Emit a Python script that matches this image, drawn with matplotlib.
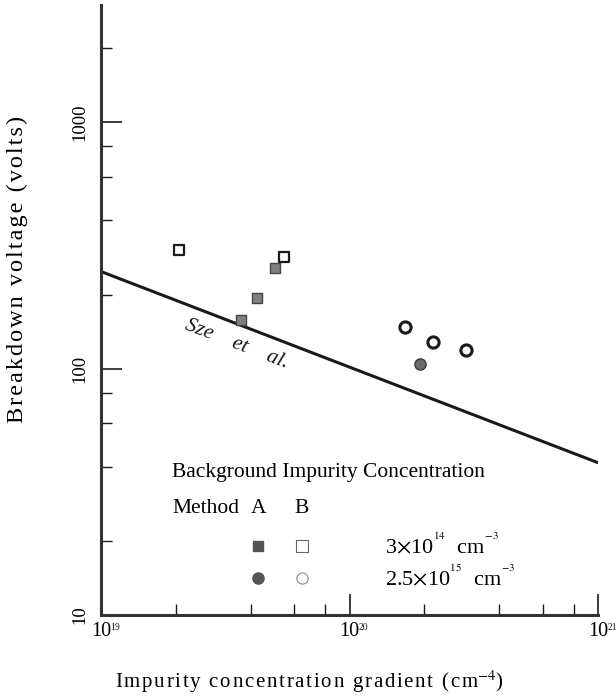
import numpy as np
import matplotlib.pyplot as plt

plt.rcParams['font.family'] = ['Liberation Serif', 'DejaVu Serif']
plt.rcParams['mathtext.fontset'] = 'stix'

# Method A (filled) / Method B (open) measurements
sq_a_x = [3.66e19, 4.24e19, 5.01e19]
sq_a_y = [157, 194, 257]
sq_b_x = [2.06e19, 5.45e19]
sq_b_y = [302, 285]
ci_a_x = [1.92e20]
ci_a_y = [104]
ci_b_x = [1.67e20, 2.17e20, 2.94e20]
ci_b_y = [148, 128, 119]

# Sze et al. curve (straight on log-log)
sze_x = [1e19, 1e21]
sze_y = [248, 41.5]

x_major = [1e19, 1e20, 1e21]
x_exp = ['19', '20', '21']
y_major = [10, 100, 1000]
y_labels = ['10', '100', '1000']

ink = '#1a1a1a'
fig = plt.figure(figsize=(6.16, 6.96), dpi=100)
ax = fig.add_axes([0.164, 0.1164, 0.807, 0.8766])
ax.set_xscale('log')
ax.set_yscale('log')
ax.set_xlim(1e19, 1e21)
ax.set_ylim(10, 3000)

ax.plot(sze_x, sze_y, color=ink, lw=2.2, solid_capstyle='butt')
ax.scatter(sq_a_x, sq_a_y, marker='s', s=60, color='#808080', edgecolors='#444444', linewidths=1.0, zorder=3)
ax.scatter(sq_b_x, sq_b_y, marker='s', s=55, facecolors='white', edgecolors=ink, linewidths=1.6, zorder=3)
ax.scatter(ci_a_x, ci_a_y, marker='o', s=65, color='#6a6a6a', edgecolors='#3a3a3a', linewidths=1.0, zorder=3)
ax.scatter(ci_b_x, ci_b_y, marker='o', s=65, facecolors='white', edgecolors=ink, linewidths=2.2, zorder=3)

ax.text(3.5e19, 126, 'Sze    et    al.', rotation=-21, ha='center', va='center',
        fontsize=15.5, style='italic', color=ink)

for s in ['top', 'right']:
    ax.spines[s].set_visible(False)
for s in ['left', 'bottom']:
    ax.spines[s].set_linewidth(2.2)
    ax.spines[s].set_color('#333333')

ax.set_xticks(x_major)
ax.set_xticklabels(['10'] * len(x_major), fontsize=14.5)
ax.set_xticks([k * d for d in x_major[:-1] for k in [2, 4, 6, 8]], minor=True)
ax.set_xticklabels([], minor=True)
for xv, e in zip(x_major, x_exp):
    ax.annotate(e, xy=(xv, 0), xycoords=('data', 'axes fraction'), xytext=(6.8, -5.5),
                textcoords='offset points', fontsize=7, ha='left', va='top', color=ink)
ax.set_yticks(y_major)
ax.set_yticklabels(y_labels, fontsize=13.5, rotation=90, va='center')
ax.set_yticks([k * d for d in y_major for k in [2, 4, 6, 8] if k * d < 3000], minor=True)
ax.set_yticklabels([], minor=True)
ax.tick_params(which='major', direction='in', length=15, width=1.2, color=ink)
ax.tick_params(axis='x', which='major', pad=5)
ax.tick_params(axis='y', which='major', pad=9)
ax.tick_params(which='minor', direction='in', length=8, width=1.0, color=ink)

hs = '\u200a'
ax.set_xlabel(hs.join('Impurity concentration gradient (cm') + '$^{-4}$)', fontsize=15)
ax.xaxis.set_label_coords(0.419, -0.088)
ax.set_ylabel(hs.join('Breakdown voltage (volts)'), fontsize=17.5)
ax.yaxis.set_label_coords(-0.147, 0.566)

# legend block
tr = ax.transAxes
ax.text(0.143, 0.234, 'Background Impurity Concentration', transform=tr, fontsize=15.5, va='center')
ax.text(0.143, 0.175, 'Method', transform=tr, fontsize=15.5, va='center')
ax.text(0.316, 0.175, 'A', transform=tr, fontsize=15.5, va='center', ha='center')
ax.text(0.404, 0.175, 'B', transform=tr, fontsize=15.5, va='center', ha='center')
ax.scatter([0.316], [0.113], marker='s', s=55, color='#555555', transform=tr)
ax.scatter([0.404], [0.113], marker='s', s=65, facecolors='white', edgecolors='#666666', linewidths=0.8, transform=tr)
ax.scatter([0.316], [0.061], marker='o', s=65, color='#555555', transform=tr)
ax.scatter([0.404], [0.061], marker='o', s=65, facecolors='white', edgecolors='#888888', linewidths=0.8, transform=tr)
ax.text(0.571, 0.113, r'3$\times$10$^{{}^{14}}$  cm$^{{}^{-3}}$', transform=tr, fontsize=16, va='center')
ax.text(0.571, 0.061, r'2.5$\times$10$^{{}^{15}}$  cm$^{{}^{-3}}$', transform=tr, fontsize=16, va='center')

fig.savefig('out.png', dpi=100)
